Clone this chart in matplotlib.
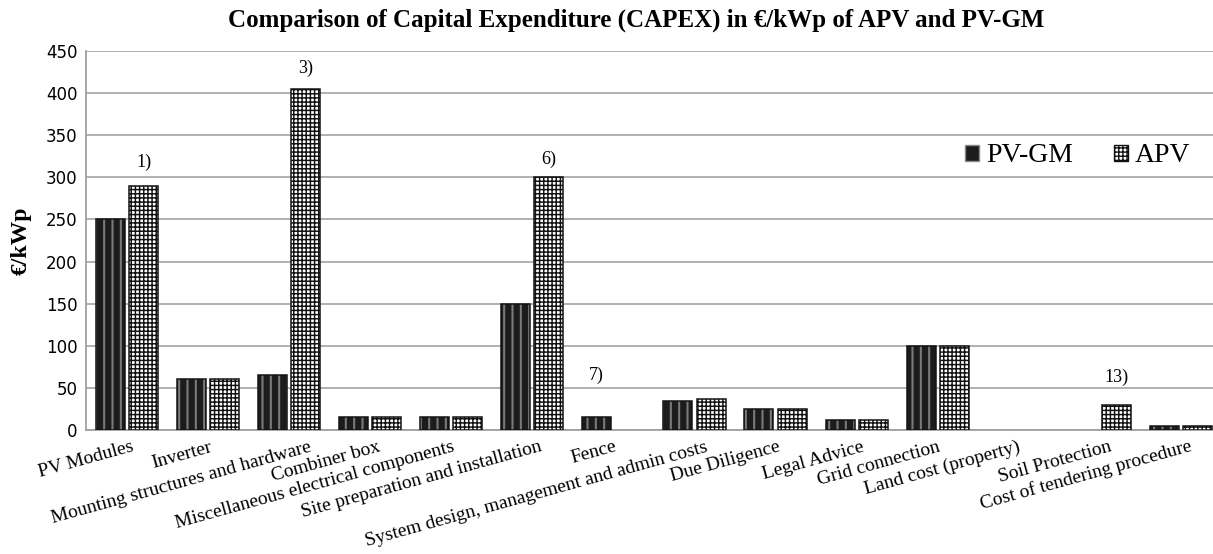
import matplotlib.pyplot as plt
import matplotlib.transforms as mtransforms
from matplotlib.patches import Patch
import numpy as np

# Datos
categorias = ['PV Modules', 'Inverter', 'Mounting structures and hardware', 'Combiner box',
              'Miscellaneous electrical components', 'Site preparation and installation',
              'Fence', 'System design, management and admin costs', 'Due Diligence',
              'Legal Advice', 'Grid connection', 'Land cost (property)', 'Soil Protection',
              'Cost of tendering procedure']
pv_gm = [250, 60, 65, 15, 15, 150, 15, 35, 25, 12, 100, 0, 0, 5]
apv = [290, 60, 405, 15, 15, 300, 0, 37, 25, 12, 100, 0, 30, 5]

notas = ['1)', '3)', '6)', '7)', '13)']
nota_idx = [0, 2, 5, 6, 12]
nota_serie = ['APV', 'APV', 'APV', 'PV-GM', 'APV']

# desplazamiento horizontal (px) del extremo derecho de cada etiqueta
desp_px = [8, 5, 23, 11, 4, 10, 4, 14, 5, 8, 3, 2, 12, 12]

serif = ['Liberation Serif', 'DejaVu Serif']

fig = plt.figure(figsize=(12.13, 5.54), dpi=100)
ax = fig.add_axes([86 / 1213, 1 - 430 / 554, 1 - 86 / 1213, (430 - 51) / 554])

x = np.arange(len(categorias))
w = 0.357
off = 0.205


def barras(pos, vals, fondo, rayado, color_rayado, lw_rayado):
    b1 = ax.bar(pos, vals, w, color=fondo, linewidth=0, zorder=3)
    with plt.rc_context({'hatch.linewidth': lw_rayado}):
        b2 = ax.bar(pos, vals, w, color='none', edgecolor=color_rayado, hatch=rayado,
                    linewidth=0, zorder=4)
    b3 = ax.bar(pos, vals, w, color='none', edgecolor='#141414', linewidth=1.1, zorder=5)
    for grupo in (b1, b2, b3):
        for r, v in zip(grupo, vals):
            if grupo is b2 and hasattr(r, 'set_hatch_linewidth'):
                r.set_hatch_linewidth(lw_rayado)
            if v == 0:
                r.set_visible(False)


# PV-GM: barras oscuras con rayas verticales
barras(x - off, pv_gm, '#1c1c1c', '||', '#7a7a7a', 1.5)
# APV: cuadriculado fino
barras(x + off, apv, 'white', '++++', '#111111', 1.05)

# Notas
y_notas = [318, 430, 321, 65, 62]
for n, i, s, yy in zip(notas, nota_idx, nota_serie, y_notas):
    xx = i - off if s == 'PV-GM' else i + off
    ax.text(xx, yy, n, ha='center', va='center', fontsize=13, family=serif)

ax.set_ylim(0, 450)
ax.set_xlim(-0.505, 13.395)
ax.set_yticks(range(0, 451, 50))
ax.yaxis.grid(True, color='#b0b0b0', linewidth=1.4, zorder=0)
ax.set_axisbelow(True)
for s in ['top', 'right']:
    ax.spines[s].set_visible(False)
for s in ['left', 'bottom']:
    ax.spines[s].set_color('#a0a0a0')
    ax.spines[s].set_linewidth(1.3)
ax.tick_params(axis='y', length=0, labelsize=12, pad=6)
ax.tick_params(axis='x', length=0)

# Etiquetas del eje x (giradas)
ax.set_xticks(x)
ax.set_xticklabels([])
trans = ax.get_xaxis_transform()
for i, (lab, d) in enumerate(zip(categorias, desp_px)):
    t = trans + mtransforms.ScaledTranslation(d / 100, -21 / 100, fig.dpi_scale_trans)
    ax.text(i, 0, lab, transform=t, rotation=15.5, rotation_mode='anchor',
            ha='right', va='baseline', fontsize=14, family=serif)

ax.set_ylabel('€/kWp', fontsize=17, fontweight='bold', family=serif, labelpad=10)

fig.text(636 / 1213, 1 - 20 / 554,
         'Comparison of Capital Expenditure (CAPEX) in €/kWp of APV and PV-GM',
         ha='center', va='center', fontsize=18, fontweight='bold', family=serif)

h1 = Patch(facecolor='#1c1c1c', edgecolor='#888888')
h2 = Patch(facecolor='white', edgecolor='#111111', hatch='++++')
fig.legend([h1, h2], ['PV-GM', 'APV'], loc='center left',
           bbox_to_anchor=(965 / 1213, 1 - 156 / 554), bbox_transform=fig.transFigure,
           ncol=2, frameon=False, prop={'family': serif, 'size': 20},
           handlelength=0.52, handleheight=0.52, handletextpad=0.25, columnspacing=1.45,
           borderaxespad=0, borderpad=0)

fig.savefig('out.png', dpi=100)
